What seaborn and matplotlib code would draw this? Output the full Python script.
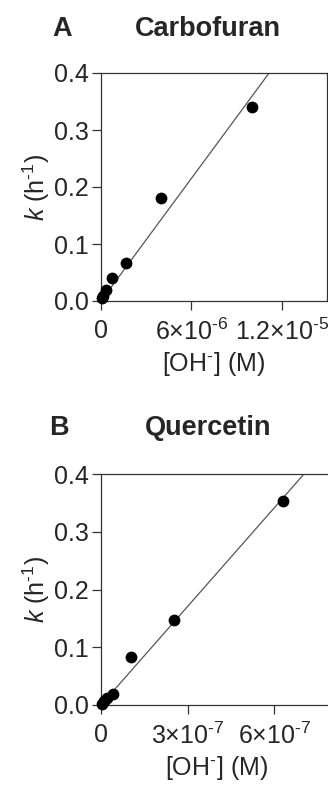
import numpy as np
import pandas as pd
import matplotlib
matplotlib.use("Agg")
import matplotlib.pyplot as plt
import seaborn as sns

# ---- data ----
carbo_oh = [5e-8, 1.5e-7, 3.3e-7, 7.0e-7, 1.65e-6, 4.0e-6, 1.0e-5]
carbo_k = [0.005, 0.009, 0.020, 0.041, 0.0675, 0.180, 0.341]

querc_oh = [3e-9, 1.0e-8, 2.0e-8, 4.3e-8, 1.03e-7, 2.52e-7, 6.31e-7]
querc_k = [0.002, 0.007, 0.012, 0.019, 0.0833, 0.1466, 0.354]

titles = ["Carbofuran", "Quercetin"]
letters = ["A", "B"]
xticks_A = [0, 6e-6, 1.2e-5]
xticklabels_A = ["0", r"6×10$^{\text{-}6}$", r"1.2×10$^{\text{-}5}$"]
xticks_B = [0, 3e-7, 6e-7]
xticklabels_B = ["0", r"3×10$^{\text{-}7}$", r"6×10$^{\text{-}7}$"]
yticks = [0.0, 0.1, 0.2, 0.3, 0.4]
yticklabels = ["0.0", "0.1", "0.2", "0.3", "0.4"]

sns.set_theme(style="ticks")
plt.rcParams["font.family"] = ["Liberation Sans", "DejaVu Sans"]
plt.rcParams["mathtext.fontset"] = "custom"
plt.rcParams["mathtext.rm"] = "Liberation Sans"
plt.rcParams["mathtext.it"] = "Liberation Sans:italic"
plt.rcParams["mathtext.default"] = "regular"

W, H = 328, 794
fig = plt.figure(figsize=(W / 100, H / 100), dpi=100)

FS = 18
TFS = 19.5

def panel(rect, xs, ys, xlim, xticks, xticklabels, title, letter, title_y, letter_x):
    ax = fig.add_axes(rect)
    df = pd.DataFrame({"x": xs, "k": ys})
    xa = np.array(xs)
    ya = np.array(ys)
    slope = np.sum(xa * ya) / np.sum(xa * xa)
    fit = pd.DataFrame({"x": [0.0, xlim[1]], "k": [0.0, slope * xlim[1]]})
    sns.lineplot(data=fit, x="x", y="k", ax=ax, color="#555555", lw=0.9, zorder=2)
    sns.scatterplot(data=df, x="x", y="k", ax=ax, color="black", s=72,
                    edgecolor="black", linewidth=0, zorder=3, clip_on=False)
    ax.set_xlim(*xlim)
    ax.set_ylim(0, 0.4)
    ax.set_xticks(xticks)
    ax.set_xticklabels(xticklabels)
    ax.set_yticks(yticks)
    ax.set_yticklabels(yticklabels)
    ax.tick_params(labelsize=FS, length=6.5, width=0.9, color="#333333",
                   direction="out")
    ax.tick_params(axis="y", pad=2)
    ax.tick_params(axis="x", pad=6.5)
    for s in ax.spines.values():
        s.set_linewidth(0.9)
        s.set_color("#333333")
    ax.set_xlabel(r"[OH$^{\text{-}}$] (M)", fontsize=FS, labelpad=3)
    ax.set_ylabel(r"$\mathit{k}$ (h$^{\text{-}1}$)", fontsize=FS, labelpad=2)
    fig.text(208 / W, title_y, title, fontsize=TFS, fontweight="bold",
             ha="center", va="baseline")
    fig.text(letter_x / W, title_y, letter, fontsize=TFS, fontweight="bold",
             ha="left", va="baseline")
    return ax

panel([101 / W, 1 - 301 / H, 226 / W, 228 / H], carbo_oh, carbo_k, (0, 1.5e-5),
      xticks_A, xticklabels_A, titles[0], letters[0], 1 - 36 / H, 52)
panel([101 / W, 1 - 705 / H, 231 / W, 231 / H], querc_oh, querc_k, (0, 8e-7),
      xticks_B, xticklabels_B, titles[1], letters[1], 1 - 435 / H, 49)

fig.savefig("out.png", dpi=100)
